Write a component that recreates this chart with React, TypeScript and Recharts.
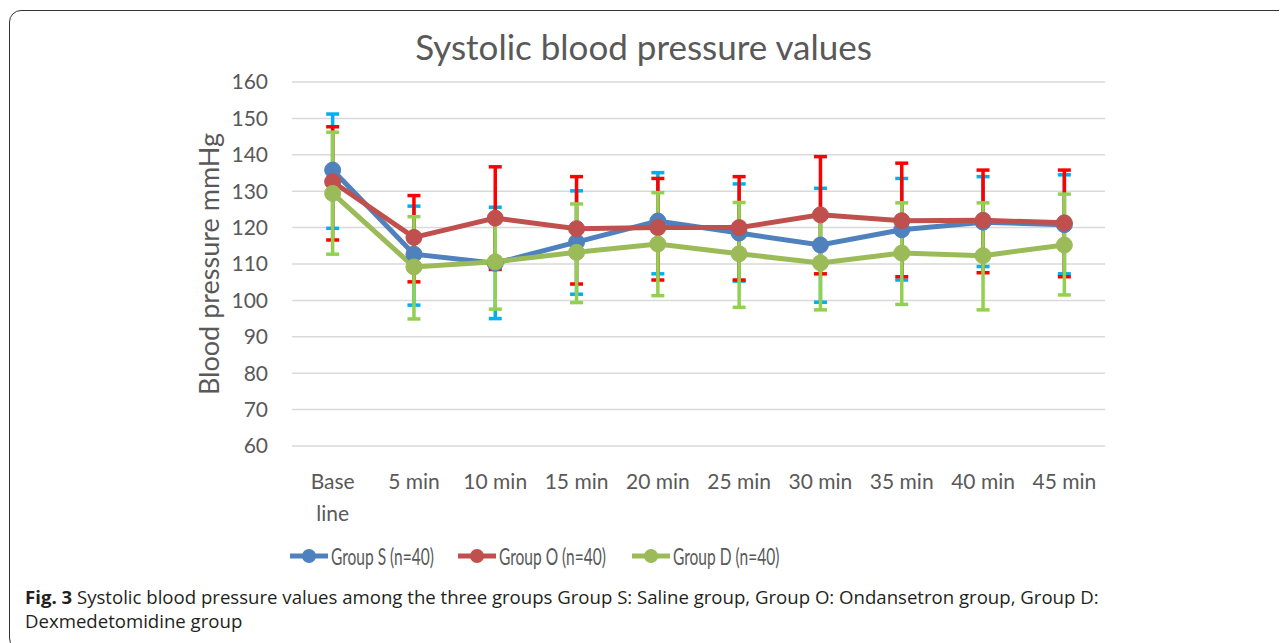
import React from 'react';
import { LineChart, Line, XAxis, YAxis, CartesianGrid, ErrorBar, Legend, Label } from 'recharts';

const categories = ['Base\nline', '5 min', '10 min', '15 min', '20 min', '25 min', '30 min', '35 min', '40 min', '45 min'];
const yTicks = [60, 70, 80, 90, 100, 110, 120, 130, 140, 150, 160];

const groupSMean = [135.8, 112.7, 110.2, 116.0, 121.8, 118.5, 115.2, 119.4, 121.5, 120.8];
const groupSHigh = [151.2, 125.9, 125.6, 130.1, 135.1, 132.0, 130.8, 133.5, 134.0, 134.5];
const groupSLow = [119.8, 98.7, 95.0, 101.7, 107.3, 105.3, 99.5, 105.6, 109.3, 107.3];

const groupOMean = [132.6, 117.3, 122.6, 119.7, 120.0, 120.0, 123.5, 121.9, 122.0, 121.3];
const groupOHigh = [147.7, 128.8, 136.7, 134.0, 133.5, 134.0, 139.5, 137.7, 135.8, 135.8];
const groupOLow = [116.6, 105.1, 108.5, 104.5, 105.6, 105.6, 107.3, 106.5, 107.6, 106.5];

const groupDMean = [129.4, 109.2, 110.6, 113.2, 115.5, 112.8, 110.3, 113.0, 112.3, 115.2];
const groupDHigh = [146.2, 123.0, 123.0, 126.5, 129.6, 126.9, 123.2, 126.8, 126.8, 129.2];
const groupDLow = [112.7, 94.9, 97.6, 99.4, 101.3, 98.1, 97.4, 98.9, 97.4, 101.5];

const seriesNames = ['Group S (n=40)', 'Group O (n=40)', 'Group D (n=40)'];
const lineColors = ['#4F81BD', '#C0504D', '#9BBB59'];
const errColors = ['#00B0F0', '#FF0000', '#92D050'];
const keys = ['s', 'o', 'd'];
const legendOffsets = [0, 168, 342];

const data = categories.map((c, i) => ({
  cat: c,
  s: groupSMean[i],
  o: groupOMean[i],
  d: groupDMean[i],
  sErr: [groupSMean[i] - groupSLow[i], groupSHigh[i] - groupSMean[i]],
  oErr: [groupOMean[i] - groupOLow[i], groupOHigh[i] - groupOMean[i]],
  dErr: [groupDMean[i] - groupDLow[i], groupDHigh[i] - groupDMean[i]],
}));

const FONT = 'Lato, "Open Sans", sans-serif';
const TEXT = '#595959';

const XTick = (props: any) => {
  const { x, y, payload } = props;
  const lines = String(payload.value).split('\n');
  return (
    <text x={x} y={y} textAnchor="middle" fill={TEXT} fontSize={21} fontFamily={FONT}>
      {lines.map((l, i) => (
        <tspan key={i} x={x} dy={i === 0 ? 43 : 32}>{l}</tspan>
      ))}
    </text>
  );
};

const LegendContent = () => (
  <div style={{ position: 'relative', width: 520, height: 26, fontFamily: FONT, fontSize: 22.5, color: TEXT, whiteSpace: 'nowrap' }}>
    {seriesNames.map((n, i) => (
      <div key={n} style={{ position: 'absolute', left: legendOffsets[i], top: 0, display: 'flex', alignItems: 'center', height: 26 }}>
        <svg width={38} height={20}>
          <line x1={0} y1={10} x2={38} y2={10} stroke={lineColors[i]} strokeWidth={5} />
          <circle cx={19} cy={10} r={7} fill={lineColors[i]} />
        </svg>
        <span style={{ marginLeft: 3, display: 'inline-block', transform: 'scaleX(0.69)', transformOrigin: 'left center' }}>{n}</span>
      </div>
    ))}
  </div>
);

export default function App() {
  return (
    <div style={{ position: 'relative', width: 1279, height: 635, overflow: 'hidden', fontFamily: FONT }}>
      <div style={{ position: 'absolute', left: 1, top: 2, width: 1330, height: 640, border: '1.5px solid #333', borderRadius: 12, boxSizing: 'border-box' }} />
      <div style={{ position: 'absolute', left: 0, top: 21, width: 1271, textAlign: 'center', fontSize: 35, lineHeight: '35px', color: TEXT, fontFamily: FONT }}>
        Systolic blood pressure values
      </div>
      <div style={{ position: 'absolute', left: 0, top: 0 }}>
        <LineChart width={1279} height={575} data={data} margin={{ top: 74, right: 182, bottom: 67, left: 0 }}>
          <CartesianGrid vertical={false} stroke="#D9D9D9" strokeWidth={1.5} />
          <XAxis dataKey="cat" scale="band" tickLine={false} axisLine={false} height={70} interval={0} tickSize={0} tickMargin={0} tick={<XTick />} />
          <YAxis domain={[60, 160]} ticks={yTicks} interval={0} tickLine={false} axisLine={false} tickSize={0} tickMargin={24} width={284}
            tick={{ fill: TEXT, fontSize: 21, fontFamily: FONT }}>
            <Label content={() => (
              <text x={200} y={256} transform="rotate(-90, 200, 256)" textAnchor="middle" dominantBaseline="central" fill={TEXT} fontSize={27} fontFamily={FONT}>
                Blood pressure mmHg
              </text>
            )} />
          </YAxis>
          {keys.map((k, i) => (
            <Line key={'err-' + k} dataKey={k} stroke="none" dot={false} activeDot={false} legendType="none" isAnimationActive={false}>
              <ErrorBar dataKey={k + 'Err'} direction="y" width={6.5} stroke={errColors[i]} strokeWidth={3.5} />
            </Line>
          ))}
          {keys.map((k, i) => (
            <Line key={k} name={seriesNames[i]} dataKey={k} type="linear" stroke={lineColors[i]} strokeWidth={5}
              dot={{ r: 8, fill: lineColors[i], stroke: lineColors[i], strokeWidth: 1 }} activeDot={false} isAnimationActive={false} />
          ))}
          <Legend layout="horizontal" verticalAlign="middle" align="center" content={<LegendContent />}
            wrapperStyle={{ top: 535, left: 282, width: 'auto' }} />
        </LineChart>
      </div>
      <div style={{ position: 'absolute', left: 17, top: 577, fontFamily: '"Open Sans", sans-serif', fontSize: 18.6, lineHeight: '24px', color: '#231F20', whiteSpace: 'nowrap' }}>
        <b>Fig. 3</b> Systolic blood pressure values among the three groups Group S: Saline group, Group O: Ondansetron group, Group D:<br />
        Dexmedetomidine group
      </div>
    </div>
  );
}
